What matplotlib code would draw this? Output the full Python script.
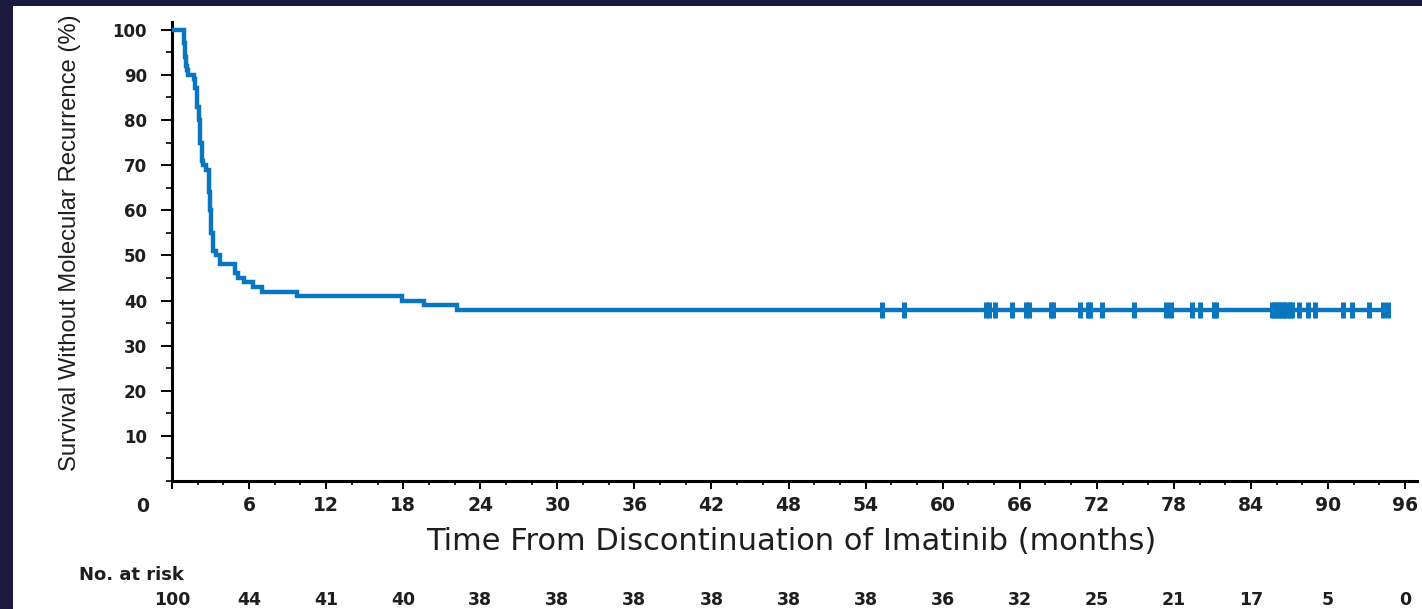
import matplotlib
matplotlib.use("Agg")
import matplotlib.pyplot as plt
from matplotlib.patches import Rectangle
from matplotlib.ticker import MultipleLocator

# event times (months) and survival (%) after each event
event_t = [0, 0.95, 1.05, 1.1, 1.15, 1.25, 1.7, 1.8, 1.95, 2.1, 2.2, 2.3, 2.45, 2.65,
           2.85, 2.95, 3.05, 3.2, 3.4, 3.75, 4.9, 5.1, 5.6, 6.3, 7.0, 9.7, 17.9, 19.6, 22.2]
event_s = [100, 97, 94, 92, 91, 90, 89, 87, 83, 80, 75, 71, 70, 69,
           64, 60, 55, 51, 50, 48, 46, 45, 44, 43, 42, 41, 40, 39, 38]
end_t = 94.7

# censored patients (months)
censor_t = [55.3, 57.0, 63.4, 63.6, 64.1, 65.4, 66.5, 66.7, 68.4, 68.6, 70.7, 71.3, 71.5,
            72.4, 74.9, 77.4, 77.8, 79.4, 80.0, 81.1, 81.3,
            85.6, 85.8, 86.0, 86.2, 86.4, 86.6, 86.8, 87.0, 87.2, 87.7, 88.4, 89.0,
            91.2, 91.9, 93.2, 94.3, 94.7]

xticks = list(range(0, 97, 6))
at_risk = [100, 44, 41, 40, 38, 38, 38, 38, 38, 38, 36, 32, 25, 21, 17, 5, 0]

navy = '#1b1a3e'
blue = '#0a76c0'
ink = '#1e1e1e'
font = ['DejaVu Sans']
narrow = ['Liberation Sans', 'DejaVu Sans']

fig = plt.figure(figsize=(14.22, 6.09), dpi=100, facecolor=navy)
fig.patches.append(Rectangle((13 / 1422, 0), 1, 1 - 6 / 609, transform=fig.transFigure,
                             facecolor='white', edgecolor='none', zorder=-5))

ax = fig.add_axes([172 / 1422, 1 - 481 / 609, (1416.7 - 172) / 1422, (481 - 21.7) / 609])
ax.set_zorder(2)
ax.set_facecolor('none')

ax.step(event_t + [end_t], event_s + [event_s[-1]], where='post', color=blue, lw=3.2,
        solid_joinstyle='miter', zorder=3)
ax.plot(censor_t, [event_s[-1]] * len(censor_t), ls='none', marker='|', ms=11.5,
        mew=3.6, color=blue, zorder=3)

ax.set_xlim(0, 96.9)
ax.set_ylim(0, 101.8)
for s in ['top', 'right']:
    ax.spines[s].set_visible(False)
for s in ['left', 'bottom']:
    ax.spines[s].set_linewidth(2.2)
    ax.spines[s].set_color('black')

ax.set_xticks(xticks)
ax.set_xticklabels([''] + [str(v) for v in xticks[1:]])
ax.xaxis.set_minor_locator(MultipleLocator(2))
ax.set_yticks(range(10, 101, 10))
ax.yaxis.set_minor_locator(MultipleLocator(5))
ax.tick_params(axis='y', which='major', length=8, width=1.4, pad=10, labelsize=12,
               labelcolor=ink)
ax.tick_params(axis='y', which='minor', length=4.5, width=1.2)
ax.tick_params(axis='x', which='major', length=6, width=1.4, pad=5, labelsize=13.5,
               labelcolor=ink)
ax.tick_params(axis='x', which='minor', length=3, width=1.2)
for lab in ax.get_xticklabels() + ax.get_yticklabels():
    lab.set_fontfamily(font)
    lab.set_fontweight('bold')

# corner zero label
fig.text(143 / 1422, 1 - 507 / 609, '0', ha='center', va='center', fontsize=13.5,
         fontweight='bold', family=font, color=ink)

fig.text(791 / 1422, 1 - 541 / 609, 'Time From Discontinuation of Imatinib (months)',
         ha='center', va='center', fontsize=22, family=font, color=ink)
fig.text(70 / 1422, 1 - 243 / 609, 'Survival Without Molecular Recurrence (%)',
         ha='center', va='center', rotation=90, fontsize=17.2, family=narrow, color=ink)

fig.text(79 / 1422, 1 - 575 / 609, 'No. at risk', ha='left', va='center', fontsize=13,
         fontweight='bold', family=font, color=ink)
risk_y = -(600 - 481) / (481 - 21.7)
for t, n in zip(xticks, at_risk):
    ax.text(t, risk_y, str(n), transform=ax.get_xaxis_transform(), ha='center',
            va='center', fontsize=12.5, fontweight='bold', family=font, color=ink,
            clip_on=False)

fig.savefig('out.png', dpi=100, facecolor=navy)
